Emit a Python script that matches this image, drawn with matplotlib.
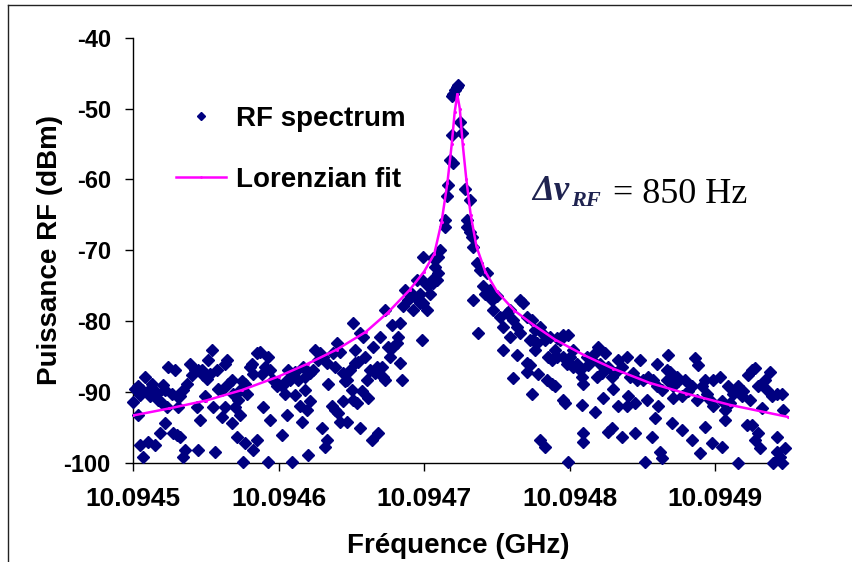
import matplotlib
matplotlib.use("Agg")
import matplotlib.pyplot as plt
from matplotlib.lines import Line2D

# measured spectrum: offset from 10.0945 GHz in kHz, power in dBm
spec_khz = [
    0.2, 1.4, 3.7, 4.8, 8.2, 6.0, 9.4, 12.8, 11.7, 14.0, 16.3, 17.4, 19.7, 20.8, 22.0, 24.3,
    23.1, 26.6, 28.9, 30.0, 31.1, 32.3, 34.6, 36.9, 39.2, 40.3, 42.6, 43.7, 44.9, 47.2, 48.3,
    49.5, 50.6, 51.8, 54.0, 52.9, 55.2, 57.5, 58.6, 60.9, 63.2, 64.3, 63.2, 65.5, 67.8, 68.9,
    70.1, 72.4, 73.5, 74.7, 77.0, 78.1, 80.4, 81.5, 82.7, 85.0, 87.2, 88.4, 90.7, 93.0, 94.1,
    96.4, 98.7, 99.8, 102.1, 104.4, 106.7, 107.9,
    3.7, 4.8, 7.1, 10.5, 15.1, 18.5, 22.0, 27.7, 30.0, 32.3, 34.6, 35.7, 44.9, 46.0, 56.3,
    60.9, 67.8, 71.2, 73.5, 75.8, 77.0, 82.7, 85.0, 89.5, 93.0, 94.1, 102.1, 105.6, 109.0,
    105.5, 109.0, 111.3, 113.6, 117.0, 118.1, 121.6, 123.9, 125.0, 127.3, 128.4, 130.7,
    133.0, 134.2, 137.6, 138.8, 139.9, 142.2, 144.5, 146.8, 149.1, 151.3, 152.5, 152.5,
    154.8, 155.9, 158.2, 159.4, 160.5, 162.8, 165.1, 166.2, 167.4, 169.7, 170.8, 172.0,
    173.1, 175.4, 176.5, 177.7, 178.8, 181.1, 182.3, 183.4, 184.6, 183.4, 185.7, 186.8,
    189.1, 191.4, 192.6, 194.9, 196.0, 197.1, 198.3, 199.4, 201.7, 202.9, 204.0, 205.2, 206.3,
    111.3, 114.7, 118.1, 119.3, 121.6, 115.9, 120.4, 129.6, 131.9, 133.0, 136.5, 138.8,
    141.0, 142.2, 144.5, 145.6, 146.8, 150.2, 151.3, 153.6, 155.9, 157.1, 161.7, 163.9,
    168.5, 173.1,
    223.5, 222.4, 221.2, 220.1, 219.0, 224.7, 225.8, 219.0, 217.8, 220.1, 228.1, 216.7,
    215.5, 231.6, 214.4, 214.4, 229.3, 229.3, 231.6, 232.7, 233.8, 210.9, 209.8, 207.5,
    209.8, 208.7, 206.4, 198.3, 197.2, 199.5, 236.1, 238.4, 243.0, 233.8, 240.7, 241.9,
    245.3, 246.4, 249.9, 247.6, 252.2, 254.4, 256.7, 259.0, 261.3, 265.9, 268.2, 263.6,
    265.9, 270.5, 272.8, 277.4, 259.0, 254.4, 263.6, 270.5, 270.5, 261.3, 237.3,
    273.8, 276.1, 279.6, 280.7, 275.0, 276.1, 283.0, 285.3, 287.6, 289.9, 291.0, 286.4,
    291.0, 293.3, 295.6, 299.0, 295.6, 297.9, 300.2, 302.5, 302.5, 304.8, 307.1, 308.2,
    309.3, 311.6, 312.8, 315.1, 317.4, 319.6, 320.8, 318.5, 322.0, 324.2, 326.5, 328.8,
    331.1, 333.4, 335.7, 339.1, 341.4, 343.7, 346.0, 348.3, 350.6, 354.0, 357.4, 359.7,
    359.7, 363.1, 366.6, 367.7, 368.9, 371.2, 373.5,
    273.8, 272.7, 278.4, 284.2, 287.6, 289.9, 279.6, 283.0, 295.6, 296.7, 299.0, 308.2,
    309.3, 309.3, 317.4, 323.1, 326.5, 328.8, 330.0, 333.4, 335.7, 339.1, 340.3, 344.8,
    344.8, 351.7, 352.9, 356.3, 358.6, 360.9, 362.0, 363.1, 370.0, 371.2,
    368.9, 366.6, 374.6, 379.2, 376.9, 381.5, 383.8, 386.0, 388.3, 387.2, 390.6, 392.9,
    394.1, 396.4, 398.6, 398.6, 403.2, 404.4, 406.7, 408.9, 410.1, 412.4, 415.8, 418.1,
    419.3, 422.7, 425.0, 427.3, 423.8, 429.6, 431.8, 434.1, 435.3, 437.6, 438.7, 442.2,
    445.6, 446.7,
    376.9, 383.8, 389.5, 392.9, 397.5, 404.4, 406.7, 415.8, 421.6, 425.0, 427.3, 429.6,
    430.7, 439.9, 442.2, 442.2, 444.4, 445.6, 447.9,
]
spec_dbm = [
    -91.4, -89.5, -89.2, -90.4, -87.8, -89.7, -90.0, -88.8, -90.6, -89.5, -90.2, -91.1, -91.6, -89.0, -89.7, -86.4,
    -92.1, -90.2, -86.9, -90.6, -92.1, -90.6, -89.7, -88.8, -86.0, -87.6, -86.9, -92.1, -86.9, -86.9, -87.6,
    -90.6, -88.1, -85.5, -84.1, -87.4, -92.1, -86.9, -89.5, -89.7, -86.0, -85.5, -92.1, -88.8, -88.3, -90.2,
    -92.1, -91.1, -89.7, -88.5, -88.8, -90.2, -86.4, -86.0, -87.4, -84.5, -84.3, -87.4, -86.4, -85.0, -86.9,
    -88.3, -89.2, -88.8, -89.2, -90.2, -86.9, -88.3,
    -93.2, -97.5, -99.1, -97.0, -97.5, -95.8, -94.4, -95.8, -96.1, -96.3, -99.1, -98.2, -98.2, -93.9, -98.4,
    -93.5, -94.4, -96.3, -93.2, -99.8, -97.2, -98.2, -96.7, -92.1, -99.8, -93.9, -96.0, -93.2, -99.8,
    -88.3, -87.8, -87.1, -88.3, -86.4, -87.8, -87.3, -86.9, -84.0, -85.5, -84.5, -85.0,
    -85.9, -88.8, -84.5, -86.4, -83.1, -84.3, -87.3, -88.3, -86.9, -80.3, -84.1, -85.9,
    -85.7, -81.7, -82.2, -85.0, -88.3, -86.9, -83.6, -87.3, -86.4, -82.2, -86.4, -87.8,
    -78.4, -83.6, -85.0, -80.5, -83.6, -83.1, -82.2, -85.9, -88.3, -80.3, -77.9, -75.6,
    -77.0, -76.1, -78.4, -74.2, -77.0, -77.5, -82.6, -70.9, -78.4, -75.1, -76.1, -74.2, -71.1,
    -90.4, -92.0, -89.7, -92.5, -91.3, -94.2, -98.9, -95.1, -97.7, -96.7, -92.0, -92.5,
    -93.0, -94.2, -91.3, -88.5, -94.2, -89.7, -91.1, -91.6, -95.1, -89.9, -90.9, -96.7,
    -95.8, -88.3,
    -46.7, -46.9, -47.4, -47.9, -48.3, -51.9, -53.5, -53.7, -57.3, -57.7, -61.3, -60.8,
    -62.4, -62.9, -65.7, -66.7, -65.7, -66.7, -67.4, -68.1, -69.5, -70.0, -70.9, -72.3,
    -73.2, -74.2, -74.6, -74.2, -76.1, -77.5, -71.8, -72.8, -73.2, -77.0, -75.1, -76.1,
    -75.6, -77.0, -76.5, -78.4, -79.4, -80.8, -78.9, -78.4, -79.8, -77.0, -77.5, -80.8,
    -81.7, -79.4, -82.6, -83.1, -82.2, -84.0, -84.8, -85.9, -87.1, -88.0, -81.7,
    -79.8, -81.2, -80.8, -81.7, -82.6, -84.1, -82.6, -85.0, -85.5, -84.1, -85.0, -82.2,
    -82.4, -82.7, -82.0, -82.0, -85.0, -86.0, -85.0, -84.1, -86.4, -86.0, -86.9, -87.8,
    -88.8, -85.0, -86.2, -85.5, -84.5, -83.6, -86.0, -87.8, -87.3, -84.5, -86.4, -87.8,
    -87.3, -85.5, -86.4, -85.0, -87.8, -87.3, -88.3, -85.5, -88.3, -87.8, -88.3, -86.0,
    -89.2, -89.7, -86.9, -84.8, -88.3, -89.2, -87.8,
    -90.2, -86.2, -87.4, -88.3, -88.8, -89.2, -96.8, -97.7, -91.1, -91.6, -99.8, -91.8,
    -95.8, -97.0, -92.8, -90.9, -95.6, -95.1, -89.5, -92.0, -96.3, -92.0, -90.6, -91.6,
    -95.8, -99.8, -91.1, -96.3, -93.7, -92.0, -98.4, -99.3, -94.4, -90.9,
    -87.1, -88.3, -88.5, -88.3, -90.6, -89.9, -89.2, -85.2, -86.2, -91.1, -89.2, -88.3,
    -90.2, -91.1, -92.0, -88.3, -87.8, -91.3, -92.5, -89.2, -91.6, -90.2, -89.2, -90.6,
    -89.9, -87.6, -86.9, -86.6, -91.1, -89.2, -92.3, -88.3, -89.7, -87.1, -90.6, -90.2,
    -90.2, -92.5,
    -95.3, -96.7, -98.6, -94.9, -97.2, -97.7, -93.9, -100.0, -94.6, -94.6, -96.7, -95.8,
    -97.9, -100.0, -96.3, -98.4, -99.1, -100.0, -97.9,
]

# Lorentzian fit
fit_khz = [0, 25, 50, 75, 100, 120, 140, 160, 175, 190, 200, 207, 212, 216, 219, 221, 222.8,
           224.5, 226.5, 229, 232, 236, 242, 250, 262, 275, 290, 310, 330, 355, 380, 410, 450]
fit_dbm = [-93.3, -92.3, -91.2, -89.7, -87.8, -86.0, -84.0, -81.5, -78.8, -75.6, -73.0, -70.5,
           -66.0, -60.5, -55.0, -50.5, -48.0, -50.0, -55.0, -60.0, -65.0, -69.5, -73.0, -75.8,
           -78.5, -80.5, -82.6, -84.8, -86.7, -88.7, -90.2, -91.8, -93.5]

f0 = 10.0945
spec_f = [f0 + k * 1e-6 for k in spec_khz]
fit_f = [f0 + k * 1e-6 for k in fit_khz]

xticks = [10.0945, 10.0946, 10.0947, 10.0948, 10.0949]
xlabels = ['10.0945', '10.0946', '10.0947', '10.0948', '10.0949']
yticks = [-100, -90, -80, -70, -60, -50, -40]

plt.rcParams['font.family'] = ['Liberation Sans', 'DejaVu Sans']
plt.rcParams['font.weight'] = 'bold'
plt.rcParams['axes.unicode_minus'] = False

fig = plt.figure(figsize=(8.52, 5.62), dpi=100)
W, H = 852.0, 562.0
ax = fig.add_axes([133 / W, 1 - 463 / H, 655 / W, 425.4 / H])

ax.plot(spec_f, spec_dbm, linestyle='none', marker='D', markersize=5.8,
        color='#000080', label='RF spectrum', clip_on=False, zorder=3)
ax.plot(fit_f, fit_dbm, color='#ff00ff', linewidth=1.8, marker='.', markersize=2.5,
        label='Lorenzian fit', zorder=4)

ax.set_xlim(10.0945, 10.09495)
ax.set_ylim(-100, -40)
ax.set_xticks(xticks)
ax.set_xticklabels(xlabels)
ax.set_yticks(yticks)
ax.tick_params(axis='x', direction='out', length=6, width=1, pad=11, labelsize=19)
ax.tick_params(axis='y', direction='out', length=6, width=1, pad=10, labelsize=17)
for s in ['top', 'right']:
    ax.spines[s].set_visible(False)
for s in ['left', 'bottom']:
    ax.spines[s].set_linewidth(1)

ax.set_xlabel('Fréquence (GHz)', fontsize=20, fontweight='bold', va='baseline')
ax.xaxis.set_label_coords(0.497, (463 - 553) / 425.4)
ax.set_ylabel('Puissance RF (dBm)', fontsize=20, fontweight='bold', va='center')
ax.yaxis.set_label_coords((50 - 133) / 655.0, 0.5)

ax.legend(loc='upper left', bbox_to_anchor=(176 / W, 1 - 106 / H), bbox_transform=fig.transFigure,
          frameon=False, fontsize=20, handlelength=1.8, handletextpad=0.35, labelspacing=1.25,
          borderpad=0, borderaxespad=0, markerscale=0.7)

# linewidth annotation
fig.text(532 / W, 1 - 200 / H, 'Δν', fontsize=25, family='Liberation Serif',
         fontweight='bold', fontstyle='italic', color='#1f2350', va='baseline')
fig.text(571 / W, 1 - 206 / H, 'RF', fontsize=16, family='Liberation Serif',
         fontweight='bold', fontstyle='italic', color='#1f2350', va='baseline')
fig.text(613 / W, 1 - 203 / H, '= 850 Hz', fontsize=26, family='Liberation Serif',
         fontweight='normal', color='black', va='baseline')

# frame of the original picture
fig.add_artist(Line2D([8 / W, 8 / W], [0, 1 - 5 / H], transform=fig.transFigure, color='#222222', lw=1))
fig.add_artist(Line2D([8 / W, 1], [1 - 5 / H, 1 - 5 / H], transform=fig.transFigure, color='#222222', lw=1))

fig.savefig('out.png', dpi=100)
